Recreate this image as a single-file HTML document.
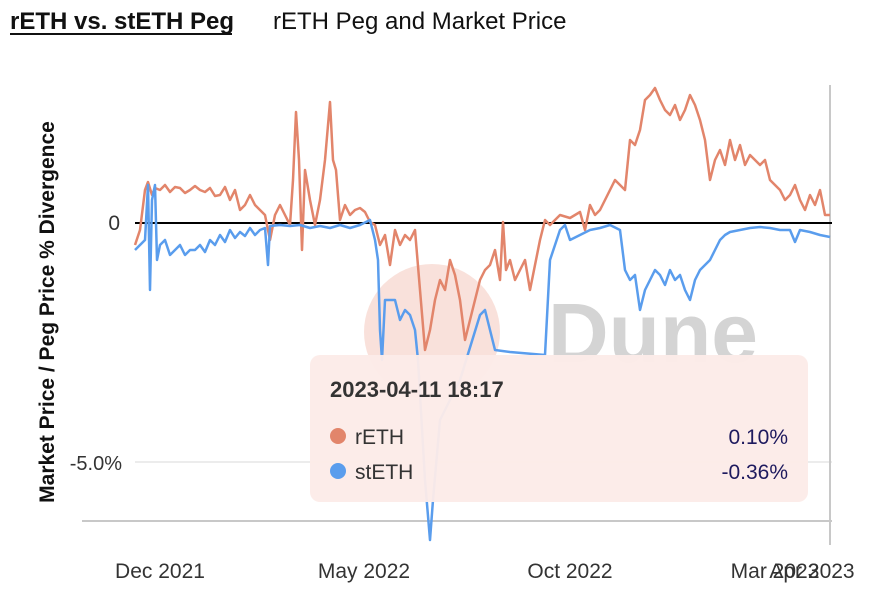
<!DOCTYPE html>
<html><head><meta charset="utf-8"><style>
body{margin:0;width:870px;height:590px;background:#fff;overflow:hidden;font-family:"Liberation Sans",sans-serif;}
</style></head><body>
<svg width="870" height="590" xmlns="http://www.w3.org/2000/svg" style="position:absolute;left:0;top:0">
<text x="10" y="29" font-size="24" font-weight="bold" fill="#111">rETH vs. stETH Peg</text>
<line x1="10" y1="34" x2="232" y2="34" stroke="#111" stroke-width="2"/>
<text x="273" y="29" font-size="24" fill="#111">rETH Peg and Market Price</text>
<text transform="translate(54,312) rotate(-90)" text-anchor="middle" font-size="21" font-weight="bold" fill="#111">Market Price / Peg Price % Divergence</text>
<line x1="135" y1="462" x2="832" y2="462" stroke="#e6e6e6" stroke-width="1.5"/>
<line x1="82" y1="521" x2="832" y2="521" stroke="#c8c8c8" stroke-width="2"/>
<line x1="830" y1="85" x2="830" y2="545" stroke="#c8c8c8" stroke-width="2"/>
<text x="120" y="230" text-anchor="end" font-size="21" fill="#333">0</text>
<text x="122" y="470" text-anchor="end" font-size="20" fill="#333">-5.0%</text>
<circle cx="432" cy="332" r="68" fill="#f7d9d2" opacity="0.8"/>
<text x="548" y="362" font-size="84" font-weight="bold" fill="#d4d4d4" textLength="210" lengthAdjust="spacingAndGlyphs">Dune</text>
<line x1="135" y1="223" x2="832" y2="223" stroke="#000" stroke-width="2"/>
<polyline fill="none" stroke="#e2856b" stroke-width="2.5" stroke-linejoin="round" points="135,245 140,230 145,190 148,182 152,195 155,188 160,190 165,185 170,192 175,187 180,188 185,193 190,190 195,186 200,190 205,192 210,188 215,196 220,195 225,187 230,200 235,190 240,210 245,205 250,195 255,205 260,210 265,215 270,240 275,215 280,205 285,215 290,225 293,180 296,112 299,160 302,250 305,170 310,200 315,225 320,200 325,160 330,102 333,160 336,170 340,220 345,205 350,215 355,210 360,208 365,212 370,222 375,225 380,245 385,235 390,265 395,230 400,245 405,235 410,240 415,230 420,290 425,350 430,330 435,300 440,280 445,290 450,260 455,275 460,300 465,340 470,320 475,300 480,280 485,270 490,265 495,250 500,280 503,222 506,270 510,260 515,280 520,270 525,260 530,290 535,265 540,240 545,220 550,225 560,215 570,218 580,212 585,230 590,205 595,215 600,210 605,200 610,190 615,180 620,185 625,190 630,140 635,145 640,130 645,100 650,95 655,88 660,100 665,110 670,115 675,105 680,120 685,110 690,95 695,105 700,120 705,140 710,180 715,160 720,150 725,165 730,140 735,160 740,145 745,165 750,155 755,160 760,165 765,160 770,180 775,185 780,190 785,200 790,195 795,185 800,200 805,210 810,195 815,205 820,190 825,215 830,215"/>
<polyline fill="none" stroke="#5a9ded" stroke-width="2.5" stroke-linejoin="round" points="135,250 140,245 145,240 148,185 150,290 152,200 155,185 157,260 160,245 165,240 170,255 175,250 180,245 185,255 190,250 195,250 200,245 205,252 210,240 215,245 220,235 225,242 230,230 235,238 240,232 245,236 250,228 255,235 260,230 265,228 268,265 270,226 280,225 290,226 300,225 310,228 320,226 330,228 340,225 350,228 360,225 370,220 375,240 378,260 380,330 382,360 385,300 395,300 400,320 405,310 410,315 415,330 418,360 425,480 430,540 433,500 440,420 460,380 480,315 485,310 490,330 495,350 510,352 545,355 550,260 560,230 565,225 570,240 580,235 590,230 600,228 610,225 620,230 625,270 630,280 635,275 640,310 645,290 650,280 655,270 660,275 665,285 670,270 675,280 680,275 685,290 690,300 695,280 700,270 705,265 710,260 715,250 720,240 725,235 730,232 740,230 750,228 760,227 770,228 780,230 790,230 795,242 800,230 810,232 820,235 830,237"/>
<rect x="310" y="355" width="498" height="147" rx="10" fill="#fcebe8" opacity="0.96"/>
<text x="330" y="397" font-size="22" font-weight="bold" fill="#333">2023-04-11 18:17</text>
<circle cx="338" cy="436" r="8" fill="#e2856b"/>
<text x="355" y="444" font-size="21" fill="#333">rETH</text>
<text x="788" y="444" text-anchor="end" font-size="21" fill="#1e1a5e">0.10%</text>
<circle cx="338" cy="471" r="8" fill="#5a9ded"/>
<text x="355" y="479" font-size="21" fill="#333">stETH</text>
<text x="788" y="479" text-anchor="end" font-size="21" fill="#1e1a5e">-0.36%</text>
<g font-size="21" fill="#333" text-anchor="middle">
<text x="160" y="578">Dec 2021</text>
<text x="364" y="578">May 2022</text>
<text x="570" y="578">Oct 2022</text>
<text x="775" y="578">Mar 2023</text>
<text x="812" y="578">Apr 2023</text>
</g>
</svg>
</body></html>
